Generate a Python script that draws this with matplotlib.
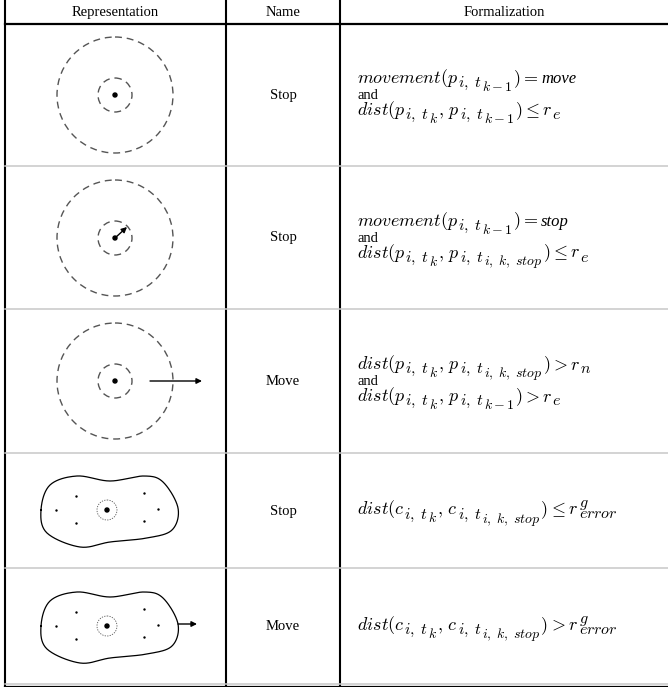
import matplotlib.pyplot as plt
import matplotlib.patches as mpatches
import numpy as np

plt.rcParams['mathtext.fontset'] = 'cm'
SERIF = 'Liberation Serif'

# table content
headers = ["Representation", "Name", "Formalization"]
names = ["Stop", "Stop", "Move", "Stop", "Move"]

# formula lines as tokens: (text, level); level 0 main, 1 sub, 2 sub-sub,
# 'it' italic text, 'rm' roman text, ('stack', sup, sub) for r^g_error
mv = [("movement(p", 0), (r"i,\;t", 1), ("k-1", 2), (")=", 0)]
d_prev = [("dist(p", 0), (r"i,\;t", 1), ("k", 2), (r",\,p", 0), (r"i,\;t", 1), ("k-1", 2), (")", 0)]
d_stop_p = [("dist(p", 0), (r"i,\;t", 1), ("k", 2), (r",\,p", 0), (r"i,\;t", 1),
            (r"i,\;k,\;stop", 2), (")", 0)]
d_stop_c = [("dist(c", 0), (r"i,\;t", 1), ("k", 2), (r",\,c", 0), (r"i,\;t", 1),
            (r"i,\;k,\;stop", 2), (")", 0)]

formulas = [
    [mv + [("move", 'it')], [("and", 'rm')], d_prev + [(r"\leq r", 0), ("e", 1)]],
    [mv + [("stop", 'it')], [("and", 'rm')], d_stop_p + [(r"\leq r", 0), ("e", 1)]],
    [d_stop_p + [(">r", 0), ("n", 1)], [("and", 'rm')], d_prev + [(">r", 0), ("e", 1)]],
    [d_stop_c + [(r"\leq r", 0), ("stack", "g", "error")]],
    [d_stop_c + [(">r", 0), ("stack", "g", "error")]],
]

# layout (pixels)
col_x = [5, 226, 340, 668]
row_y = [0, 24, 166, 309, 453, 568, 684]
S0, S1, S2 = 13.0, 11.5, 10.0
line_gap = 16

fig = plt.figure(figsize=(6.68, 6.87), dpi=100)
ax = fig.add_axes([0, 0, 1, 1])
ax.set_xlim(0, 668)
ax.set_ylim(687, 0)
ax.axis('off')
renderer = fig.canvas.get_renderer()

# grid lines
for x in col_x[:3]:
    ax.plot([x, x], [0, 687], color='black', lw=1.5, solid_capstyle='butt')
ax.plot([5, 668], [24, 24], color='black', lw=1.6)
for y in row_y[2:]:
    ax.plot([5, 668], [y, y], color='#c8c8c8', lw=1.1)
ax.plot([5, 668], [686.5, 686.5], color='black', lw=1.6)

# header
for i, h in enumerate(headers):
    ax.text((col_x[i] + col_x[i + 1]) / 2, 16, h, ha='center', va='baseline',
            family=SERIF, fontsize=10.5)


def put(x, y, s, **kw):
    t = ax.text(x, y, s, ha='left', va='baseline', **kw)
    return t.get_window_extent(renderer=renderer).width


def draw_line(x, yb, tokens):
    for tok in tokens:
        if tok[0] == "stack":
            w1 = put(x + 1, yb - 7, "$%s$" % tok[1], fontsize=S1)
            w2 = put(x + 1, yb + 4, "$%s$" % tok[2], fontsize=S1)
            x += max(w1, w2)
            continue
        s, lev = tok
        if lev == 'it':
            x += put(x + 3, yb, s, family=SERIF, style='italic', fontsize=12) + 3
        elif lev == 'rm':
            x += put(x, yb, s, family=SERIF, fontsize=10.5)
        elif lev == 0:
            x += put(x, yb, "$%s$" % s, fontsize=S0)
        elif lev == 1:
            x += put(x, yb + 4, "$%s$" % s, fontsize=S1)
        else:
            x += put(x, yb + 8, "$%s$" % s, fontsize=S2)


for r in range(5):
    yc = (row_y[r + 1] + row_y[r + 2]) / 2
    ax.text(283, yc + 4, names[r], ha='center', va='baseline',
            family=SERIF, fontsize=10.5)
    lines = formulas[r]
    n = len(lines)
    for k, ln in enumerate(lines):
        yl = yc + (k - (n - 1) / 2) * line_gap
        draw_line(357, yl + 4, ln)

dash = (0, (5, 3.5))
grey = '#555555'


def target(cx, cy):
    ax.add_patch(mpatches.Circle((cx, cy), 58, fill=False, ec=grey, lw=1.0, ls=dash))
    ax.add_patch(mpatches.Circle((cx, cy), 17, fill=False, ec=grey, lw=1.0, ls=dash))
    ax.add_patch(mpatches.Circle((cx, cy), 2, color='black'))


def arrow(x0, y0, x1, y1):
    ax.annotate('', xy=(x1, y1), xytext=(x0, y0),
                arrowprops=dict(arrowstyle='-|>', lw=1.0, color='black',
                                mutation_scale=8, shrinkA=0, shrinkB=0))


target(115, 95)
target(115, 238)
arrow(115, 238, 127, 227)
target(115, 381)
arrow(150, 381, 202, 381)

# peanut-shaped group outline (control points relative to group centre)
blob = np.array([(-66, 0), (-57, -25), (-30, -34), (3, -29), (37, -34), (56, -28),
                 (71, -2), (65, 20), (40, 28), (3, 32), (-27, 37), (-60, 23)], float)
members = np.array([(-31, -14), (-51, 0), (-31, 13), (37, -17), (51, -1), (37, 11)], float)


def closed_spline(p, m=20):
    out = []
    n = len(p)
    for i in range(n):
        p0, p1, p2, p3 = p[i - 1], p[i], p[(i + 1) % n], p[(i + 2) % n]
        for t in np.linspace(0, 1, m, endpoint=False):
            out.append(0.5 * ((2 * p1) + (-p0 + p2) * t
                              + (2 * p0 - 5 * p1 + 4 * p2 - p3) * t ** 2
                              + (-p0 + 3 * p1 - 3 * p2 + p3) * t ** 3))
    out.append(out[0])
    return np.array(out)


def group(cx, cy):
    s = closed_spline(blob)
    ax.plot(s[:, 0] + cx, s[:, 1] + cy, color='black', lw=0.9)
    ax.scatter(members[:, 0] + cx, members[:, 1] + cy, s=3, color='black', lw=0)
    ax.add_patch(mpatches.Circle((cx, cy), 10, fill=False, ec=grey, lw=0.6, ls=(0, (1.5, 1.5))))
    ax.add_patch(mpatches.Circle((cx, cy), 2, color='black'))


group(107, 510)
group(107, 626)
arrow(178, 624, 197, 624)

fig.savefig('out.png', dpi=100)
